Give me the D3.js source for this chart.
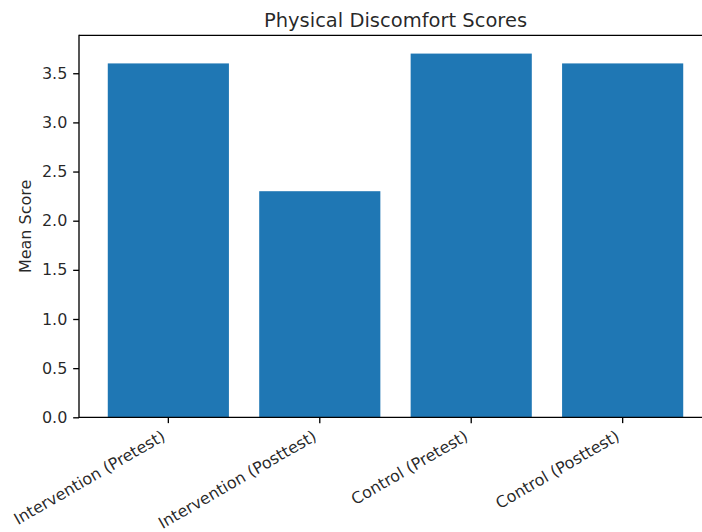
<!DOCTYPE html>
<html><head><meta charset="utf-8">
<script src="https://cdn.jsdelivr.net/npm/d3@7"></script>
<style>body{margin:0;background:#fff}svg{display:block}text{font-family:"DejaVu Sans",sans-serif;fill:#000}</style>
</head><body>
<script>
const categories = ["Intervention (Pretest)", "Intervention (Posttest)", "Control (Pretest)", "Control (Posttest)"];
const values = [3.6, 2.3, 3.7, 3.6];
const yTicks = [0, 0.5, 1.0, 1.5, 2.0, 2.5, 3.0, 3.5];
const chartTitle = "Physical Discomfort Scores";
const yLabel = "Mean Score";

(function () {
const W = 702, H = 532;
const mLeft = 79, mRight = 712, mTop = 35.4, mBottom = 417.3;
const fs = 16, tickLen = 5.83, tickPad = 5.83, lw = 1.33;
const svg = d3.select("body").append("svg").attr("width", W).attr("height", H);

const n = categories.length;
const barW = 0.8;
const xpad = (n - 1 + barW) * 0.05;
const x = d3.scaleLinear().domain([-barW/2 - xpad, n - 1 + barW/2 + xpad]).range([mLeft, mRight]);
const ymax = d3.max(values) * 1.05;
const y = d3.scaleLinear().domain([0, ymax]).range([mBottom, mTop]);

svg.append("g").selectAll("rect").data(values).join("rect")
  .attr("x", (d, i) => x(i - barW/2))
  .attr("width", (d, i) => x(i + barW/2) - x(i - barW/2))
  .attr("y", d => y(d))
  .attr("height", d => y(0) - y(d))
  .attr("fill", "#1f77b4");

const sp = svg.append("g").attr("stroke", "#000").attr("stroke-width", lw).attr("fill", "none");
sp.append("line").attr("x1", mLeft).attr("x2", mLeft).attr("y1", mTop - lw/2).attr("y2", mBottom + lw/2);
sp.append("line").attr("x1", mLeft).attr("x2", mRight).attr("y1", mBottom).attr("y2", mBottom);
sp.append("line").attr("x1", mLeft).attr("x2", mRight).attr("y1", mTop).attr("y2", mTop);
sp.append("line").attr("x1", mRight).attr("x2", mRight).attr("y1", mTop).attr("y2", mBottom);

const yAxis = d3.axisLeft(y).tickValues(yTicks).tickFormat(d3.format(".1f")).tickSize(tickLen).tickPadding(tickPad);
const gy = svg.append("g").attr("transform", `translate(${mLeft},0)`).call(yAxis);
gy.select(".domain").remove();
gy.selectAll(".tick line").attr("stroke", "#000").attr("stroke-width", lw);
gy.selectAll(".tick text").attr("font-size", fs + "px").attr("font-family", "DejaVu Sans").attr("fill", "#000").attr("fill-opacity", 0.85);

const gx = svg.append("g");
categories.forEach((c, i) => {
  const tx = x(i);
  gx.append("line").attr("x1", tx).attr("x2", tx).attr("y1", mBottom).attr("y2", mBottom + tickLen)
    .attr("stroke", "#000").attr("stroke-width", lw);
  gx.append("text")
    .attr("transform", `translate(${tx - 2},${mBottom + tickLen + tickPad + 10.5}) rotate(-30)`)
    .attr("text-anchor", "end")
    .attr("font-size", fs + "px")
    .attr("fill-opacity", 0.85)
    .text(c);
});

svg.append("text").attr("x", (mLeft + mRight) / 2).attr("y", 26.8)
  .attr("text-anchor", "middle").attr("font-size", "19.5px").attr("fill-opacity", 0.85).text(chartTitle);

svg.append("text")
  .attr("transform", `translate(${31},${(mTop + mBottom) / 2}) rotate(-90)`)
  .attr("text-anchor", "middle").attr("font-size", fs + "px").attr("fill-opacity", 0.85).text(yLabel);
})();
</script>
</body></html>
